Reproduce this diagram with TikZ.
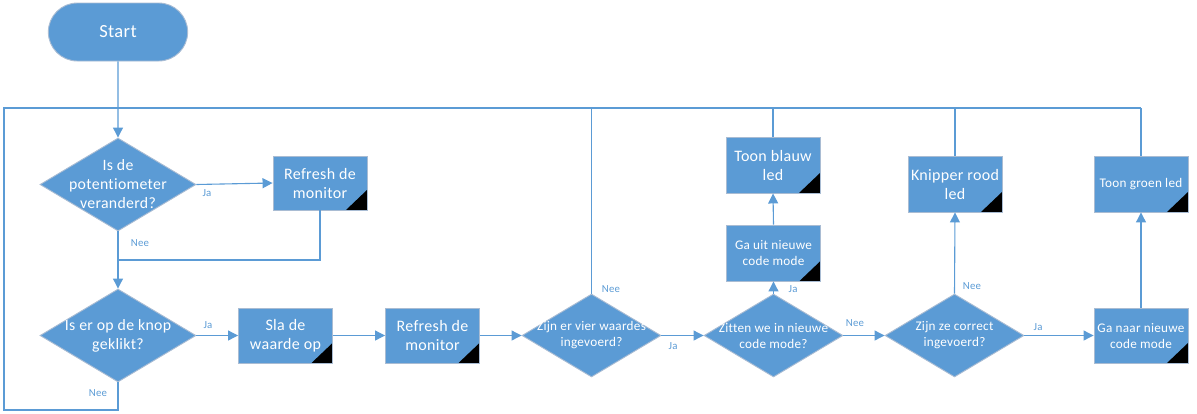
\documentclass[tikz,border=0pt]{standalone}
\usepackage{fontspec}
\setmainfont{Carlito}[LetterSpace=2,Ligatures=NoCommon]
\usetikzlibrary{shapes.geometric,shapes.misc,arrows.meta,calc}
\definecolor{fblue}{HTML}{5B9BD5}
\definecolor{bord}{HTML}{A9BCD3}
\definecolor{lblue}{HTML}{5B9BD5}
\tikzset{
  conn/.style={draw=fblue,line width=1.1pt},
  arr/.style={conn,-{Triangle[length=10pt,width=10pt]}},
  boxbase/.style={rectangle,fill=fblue,draw=bord,line width=0.9pt,text=white,align=center,inner sep=2pt,
    minimum width=94pt,minimum height=55pt,
    path picture={\fill[black] ([xshift=-21pt]path picture bounding box.south east) -- (path picture bounding box.south east) -- ([yshift=20pt]path picture bounding box.south east) -- cycle;}},
  bigbox/.style={boxbase,font=\fontsize{16}{19}\selectfont},
  smallbox/.style={boxbase,font=\fontsize{13.2}{16}\selectfont},
  dia/.style={diamond,fill=fblue,draw=bord,line width=0.9pt,inner sep=0pt,minimum width=#1,minimum height=85pt},
  dtbig/.style={text=white,align=center,font=\fontsize{15.8}{19}\selectfont},
  dtsmall/.style={text=white,align=center,font=\fontsize{13.2}{16}\selectfont},
  lbl/.style={text=lblue,font=\fontsize{10.8}{12}\selectfont,inner sep=0pt},
}
\begin{document}
\begin{tikzpicture}[x=1pt,y=-1pt]
\useasboundingbox (0,0) rectangle (1197,413);
% start
\node[rounded rectangle,fill=fblue,draw=bord,line width=0.9pt,minimum width=146pt,minimum height=58pt,text=white,font=\fontsize{18.5}{22}\selectfont] (start) at (118,32) {Start};
% diamonds
\node[dia=156pt,minimum height=93pt] (d1) at (118,184.5) {};
\node[dtbig] (t1) at (d1.center) {Is de\\potentiometer\\veranderd?};
\node[dia=156pt,minimum height=93pt] (d2) at (118,335.5) {};
\node[dtbig] (t2) at (d2.center) {Is er op de knop\\geklikt?};
\node[dia=139pt,minimum height=83pt] (d3) at (591.5,335.5) {};
\node[dtsmall] (t3) at (d3.center) {Zijn er vier waardes\\ingevoerd?};
\node[dia=139pt,minimum height=83pt] (d4) at (773.5,335.5) {};
\node[dtsmall] (t4) at (d4.center) {Zitten we in nieuwe\\code mode?};
\node[dia=139pt,minimum height=83pt] (d5) at (954.5,335.5) {};
\node[dtsmall] (t5) at (d5.center) {Zijn ze correct\\ingevoerd?};
% boxes
\node[bigbox,minimum height=54pt] (r1) at (320,183) {Refresh de\\monitor};
\node[bigbox] (sla) at (285.5,335.5) {Sla de\\waarde op};
\node[bigbox] (r2) at (432.5,335.5) {Refresh de\\monitor};
\node[smallbox,minimum height=56pt] (guit) at (773.5,253) {Ga uit nieuwe\\code mode};
\node[bigbox,minimum height=56pt] (blauw) at (773,165) {Toon blauw\\led};
\node[bigbox,minimum height=56pt] (rood) at (955,184) {Knipper rood\\led};
\node[smallbox] (gnaar) at (1141,335.5) {Ga naar nieuwe\\code mode};
\node[smallbox,minimum height=56pt] (groen) at (1141,184) {Toon groen led};
% coordinates
\coordinate (tl) at (4,108);
\coordinate (tr) at (1141,108);
\coordinate (bl) at (4,410);
\coordinate (mid) at (118,260);
% connectors
\draw[arr] (start) -- (d1);
\draw[conn] (d2.south) |- (bl) -- (tl) -- (tr);
\draw[conn] (groen.north) -- (tr);
\draw[conn] (rood.north) -- (rood.north |- tl);
\draw[conn] (blauw.north) -- (blauw.north |- tl);
\draw[conn] (d3.north) -- (d3.north |- tl);
\draw[arr] (d1.east) -- (r1.west);
\draw[conn] (r1.south) |- (mid);
\draw[arr] (d1.south) -- (d2.north);
\draw[arr] (d2.east) -- (sla.west);
\draw[arr] (sla.east) -- (r2.west);
\draw[arr] (r2.east) -- (d3.west);
\draw[arr] (d3.east) -- (d4.west);
\draw[arr] (d4.east) -- (d5.west);
\draw[arr] (d5.east) -- (gnaar.west);
\draw[arr] (d4.north) -- (guit.south);
\draw[arr] (guit.north) -- (blauw.south);
\draw[arr] (d5.north) -- (rood.south);
\draw[arr] (gnaar.north) -- (groen.south);
% labels
\node[lbl] (la1) at (207,193) {Ja};
\node[lbl] (ln1) at (140,243) {Nee};
\node[lbl] (la2) at (208,325) {Ja};
\node[lbl] (ln2) at (98,393) {Nee};
\node[lbl] (ln3) at (611,289) {Nee};
\node[lbl] (la3) at (673,346) {Ja};
\node[lbl] (la4) at (793,289) {Ja};
\node[lbl] (ln4) at (855,323) {Nee};
\node[lbl] (ln5) at (972,286) {Nee};
\node[lbl] (la5) at (1038,327) {Ja};
\end{tikzpicture}
\end{document}
